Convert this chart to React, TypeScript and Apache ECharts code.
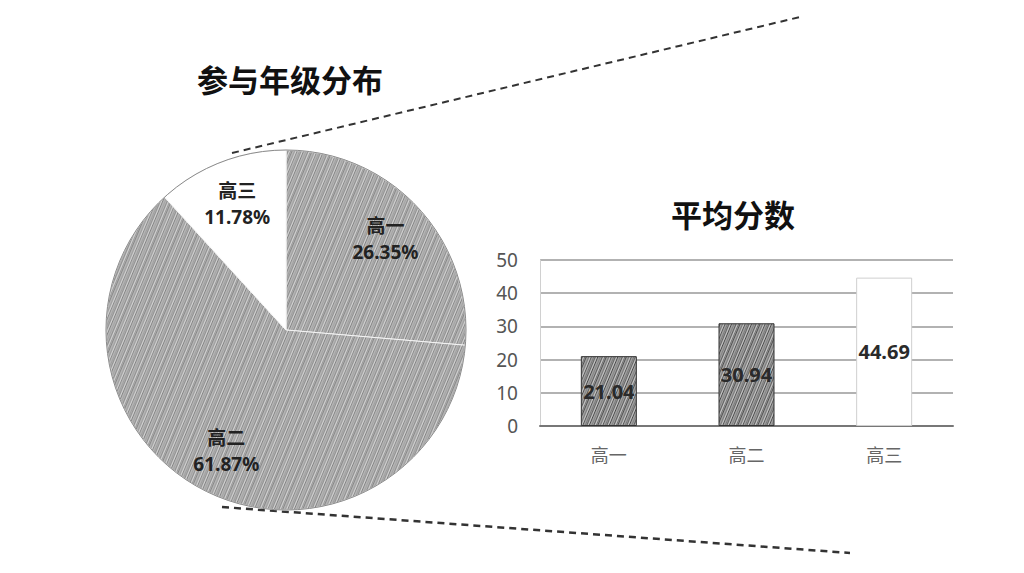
import { useEffect, useRef } from 'react';
import * as echarts from 'echarts';

const grades = ['高一', '高二', '高三'];
const sharePct = [26.35, 61.87, 11.78];
const avgScore = [21.04, 30.94, 44.69];
const yTicks = [0, 10, 20, 30, 40, 50];

const FONT = "'Noto Sans', 'Noto Sans CJK SC', sans-serif";

// pencil-like "/" strokes on a repeating tile
const strokeOffsets = [0, 2.5, 4, 6.5, 9, 11, 13.5, 15, 17.5];
const strokeShades = [0.5, 0.25, 0.4, 0.6, 0.2, 0.45, 0.3, 0.55, 0.25];
const highlightOffsets = [5.5, 12.5, 19];

function makeHatch(base: string, ink: string, darkness: number) {
  const w = 20;
  const h = 48;
  const c = document.createElement('canvas');
  c.width = w;
  c.height = h;
  const ctx = c.getContext('2d')!;
  ctx.fillStyle = base;
  ctx.fillRect(0, 0, w, h);
  const draw = (x: number) => {
    for (const shift of [-w, 0, w]) {
      ctx.beginPath();
      ctx.moveTo(x + shift, h);
      ctx.lineTo(x + shift + w, 0);
      ctx.stroke();
    }
  };
  ctx.strokeStyle = ink;
  ctx.lineWidth = 0.9;
  strokeOffsets.forEach((x, i) => {
    ctx.globalAlpha = Math.min(1, strokeShades[i] * darkness);
    draw(x);
  });
  ctx.strokeStyle = '#ffffff';
  ctx.globalAlpha = 0.45;
  highlightOffsets.forEach(draw);
  return { image: c, repeat: 'repeat' };
}

export default function App() {
  const chartRef = useRef<HTMLDivElement>(null);

  useEffect(() => {
    if (!chartRef.current) return;
    const chart = echarts.init(chartRef.current, undefined, { renderer: 'svg' });

    const pieFill = makeHatch('#b4b4b4', '#444444', 0.8);
    const barFill = makeHatch('#a0a0a0', '#222222', 1.3);

    const pieData = grades.map((g, i) => ({
      name: g,
      value: sharePct[i],
      itemStyle: i === 2 ? { color: '#ffffff' } : { color: pieFill },
    }));

    chart.setOption({
      animation: false,
      backgroundColor: '#ffffff',
      textStyle: { fontFamily: FONT },
      title: [
        {
          text: '参与年级分布',
          left: 192,
          top: 59,
          textStyle: { fontSize: 31, fontWeight: 'bold', color: '#111', fontFamily: FONT },
        },
        {
          text: '平均分数',
          left: 666,
          top: 194,
          textStyle: { fontSize: 31, fontWeight: 'bold', color: '#111', fontFamily: FONT },
        },
      ],
      grid: { left: 540, right: 71, top: 260, bottom: 147 },
      xAxis: {
        type: 'category',
        data: grades,
        axisTick: { show: false },
        axisLine: { lineStyle: { color: '#777', width: 2 } },
        axisLabel: { color: '#666', fontSize: 18, margin: 20, fontFamily: FONT },
      },
      yAxis: {
        type: 'value',
        min: yTicks[0],
        max: yTicks[yTicks.length - 1],
        interval: 10,
        axisLine: { show: true, lineStyle: { color: '#d0d0d0', width: 1 } },
        axisTick: { show: false },
        axisLabel: { color: '#555', fontSize: 19, margin: 22, fontFamily: FONT },
        splitLine: { lineStyle: { color: '#999', width: 1.5 } },
      },
      series: [
        {
          type: 'pie',
          silent: true,
          center: [286, 330],
          radius: 180,
          startAngle: 90,
          clockwise: true,
          label: { show: false },
          labelLine: { show: false },
          itemStyle: { borderColor: '#f4f4f4', borderWidth: 1 },
          data: pieData,
        },
        {
          type: 'pie',
          silent: true,
          center: [286, 330],
          radius: 180,
          label: { show: false },
          labelLine: { show: false },
          itemStyle: { color: 'transparent', borderColor: '#8a8a8a', borderWidth: 1 },
          emphasis: { disabled: true },
          data: [{ value: 1, name: 'edge' }],
        },
        {
          type: 'pie',
          silent: true,
          center: [286, 330],
          radius: [84, 180],
          startAngle: 90,
          clockwise: true,
          labelLine: { show: false },
          itemStyle: { color: 'transparent' },
          label: {
            show: true,
            position: 'inside',
            formatter: (p: any) => `${p.name}\n${p.value.toFixed(2)}%`,
            fontSize: 19,
            fontWeight: 'bold',
            lineHeight: 26,
            color: '#222',
            fontFamily: FONT,
          },
          data: grades.map((g, i) => ({ name: g, value: sharePct[i] })),
        },
        {
          type: 'bar',
          barWidth: 56,
          silent: true,
          data: avgScore.map((v, i) => ({
            value: v,
            itemStyle:
              i === 2
                ? { color: '#ffffff', borderColor: '#cfcfcf', borderWidth: 1 }
                : { color: barFill, borderColor: '#333', borderWidth: 1 },
          })),
          label: {
            show: true,
            position: 'inside',
            formatter: (p: any) => p.value.toFixed(2),
            fontSize: 20,
            fontWeight: 'bold',
            color: '#2a2a2a',
            fontFamily: FONT,
          },
        },
      ],
      graphic: [
        {
          type: 'line',
          shape: { x1: 232, y1: 153, x2: 800, y2: 17 },
          style: { stroke: '#333', lineWidth: 2, lineDash: [7, 5] },
        },
        {
          type: 'line',
          shape: { x1: 222, y1: 507, x2: 850, y2: 553 },
          style: { stroke: '#333', lineWidth: 2.5, lineDash: [7, 5] },
        },
      ],
    });

    return () => chart.dispose();
  }, []);

  return (
    <div
      ref={chartRef}
      style={{ position: 'absolute', left: 0, top: 0, width: 1024, height: 573 }}
    />
  );
}
